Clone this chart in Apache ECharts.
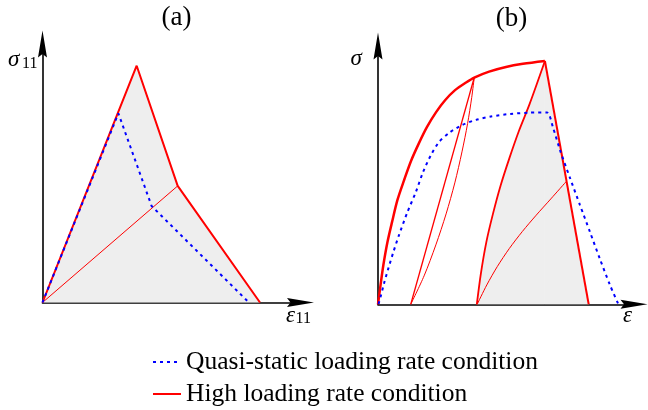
<!DOCTYPE html>
<html><head><meta charset="utf-8">
<script src="https://cdn.jsdelivr.net/npm/echarts@6/dist/echarts.min.js"></script>
<style>html,body{margin:0;padding:0;background:#fff}#c{width:648px;height:410px}</style>
</head><body><div id="c"></div>
<script>
// ---- text ----
const seriesNames = ['Quasi-static loading rate condition', 'High loading rate condition'];
const panelTitles = ['(a)', '(b)'];

// ---- panel (a): sigma_11 vs epsilon_11 (schematic units 0..100) ----
const aHigh = [[0, 0], [36.5, 91.6], [52.4, 45.1], [84.3, 0]];
const aHighThin = [[0, 0], [52.4, 45.1]];
const aQuasi = [[0, 0], [29.4, 73.2], [42.3, 37.3], [80.0, 0]];

// ---- panel (b): sigma vs epsilon (schematic units 0..100) ----
const bEnvelope = [[0, 0], [1.0, 7.5], [2.1, 15.2], [3.7, 24.1], [5.5, 31.9], [7.6, 40.4], [10.2, 48.1],
  [12.9, 55.5], [16.0, 62.4], [19.1, 68.6], [22.7, 74.4], [26.2, 79.0], [30.1, 82.9], [34.4, 85.9],
  [37.6, 87.8], [43.4, 90.1], [50.0, 91.9], [56.6, 93.1], [65.2, 94.2]];
const bDescend = [[65.2, 94.2], [82.3, 0]];
const bUnload1 = [[37.6, 87.8], [12.8, 0]];
const bReload1 = [[12.8, 0], [18.0, 11], [22.6, 23], [26.6, 35], [30.0, 47], [32.8, 59], [35.0, 70], [36.6, 80], [37.6, 87.8]];
const bUnload2 = [[38.6, 0], [40.2, 12], [42.3, 24], [44.9, 35], [47.9, 46], [51.3, 56.5], [55.0, 67], [59.2, 77.5], [65.2, 94.2]];
const bReload2 = [[38.75, 0], [42.5, 7.5], [46.6, 14.6], [51.3, 21.6], [56.4, 28.2], [61.8, 34.5], [67.5, 40.8], [73.5, 47.5]];
const bQuasi = [[0.2, 0.1], [1.2, 3.6], [2.5, 8.6], [4.1, 14.1], [5.9, 19.9], [8.2, 26.8], [11.5, 35.7],
  [14.8, 43.5], [17.6, 51.2], [20.7, 57.8], [23.8, 62.8], [27.7, 66.3], [32.8, 69.4], [38.3, 71.4],
  [44.1, 72.7], [51.6, 73.7], [59.4, 74.2], [66.0, 74.3], [68.4, 68.3], [71.1, 59.7], [75.0, 48.9],
  [78.9, 38.4], [82.8, 28.0], [86.7, 17.5], [90.6, 7.5], [93.9, 0]];

const RED = '#ff0000', BLUE = '#0000ff', FILL = '#eeeeee';
const SERIF = '"Liberation Serif", "DejaVu Serif", serif';
const DASH = [3, 4];

function axis(gi) {
  return {
    type: 'value', gridIndex: gi, min: 0, max: 100,
    axisLine: { show: true, onZero: false, symbol: ['none', 'path://M4.5,0L9,27L4.5,23.5L0,27Z'], symbolSize: [9, 27],
      lineStyle: { color: '#000', width: 1.6 } },
    axisTick: { show: false }, axisLabel: { show: false }, splitLine: { show: false }
  };
}
function line(name, data, gi, color, width, opts) {
  return Object.assign({
    type: 'line', name: name, data: data, xAxisIndex: gi, yAxisIndex: gi,
    symbol: 'none', clip: false, silent: true, animation: false,
    lineStyle: { color: color, width: width }
  }, opts || {});
}
function fill(data, gi, opts) {
  return line('fill', data, gi, FILL, 0, Object.assign({ areaStyle: { color: FILL, opacity: 1 }, lineStyle: { width: 0, opacity: 0 } }, opts || {}));
}
function legendItem(name, top) {
  return {
    data: [name], orient: 'horizontal', left: 147, top: top, itemWidth: 28, itemHeight: 14,
    selectedMode: false, itemStyle: { opacity: 0 },
    textStyle: { fontFamily: SERIF, fontSize: 25.5, color: '#000' }
  };
}

const chart = echarts.init(document.getElementById('c'), null, { renderer: 'canvas' });
chart.setOption({
  animation: false,
  backgroundColor: '#fff',
  grid: [
    { left: 42.5, top: 44, width: 258, height: 258.5 },
    { left: 378, top: 46, width: 256, height: 258.3 }
  ],
  xAxis: [axis(0), axis(1)],
  yAxis: [axis(0), axis(1)],
  legend: [legendItem(seriesNames[0], 344), legendItem(seriesNames[1], 376)],
  graphic: [
    { type: 'text', x: 176.5, y: 17.5, style: { text: panelTitles[0], font: '27px ' + SERIF, fill: '#000', align: 'center', verticalAlign: 'middle' } },
    { type: 'text', x: 511.5, y: 19, style: { text: panelTitles[1], font: '27px ' + SERIF, fill: '#000', align: 'center', verticalAlign: 'middle' } },
    { type: 'text', x: 8, y: 59.5, style: { text: 'σ', font: 'italic 23px ' + SERIF, fill: '#000', align: 'left', verticalAlign: 'middle' } },
    { type: 'text', x: 22, y: 64, style: { text: '11', font: '16px ' + SERIF, fill: '#000', align: 'left', verticalAlign: 'middle' } },
    { type: 'text', x: 286, y: 315.5, style: { text: 'ε', font: 'italic 23px ' + SERIF, fill: '#000', align: 'left', verticalAlign: 'middle' } },
    { type: 'text', x: 295.5, y: 319, style: { text: '11', font: '16px ' + SERIF, fill: '#000', align: 'left', verticalAlign: 'middle' } },
    { type: 'text', x: 350.5, y: 58.5, style: { text: 'σ', font: 'italic 23px ' + SERIF, fill: '#000', align: 'left', verticalAlign: 'middle' } },
    { type: 'text', x: 623, y: 315.5, style: { text: 'ε', font: 'italic 23px ' + SERIF, fill: '#000', align: 'left', verticalAlign: 'middle' } }
  ],
  series: [
    // panel (a)
    fill(aHigh, 0),
    line(seriesNames[1], aHigh, 0, RED, 2),
    line('a-thin', aHighThin, 0, RED, 1),
    line(seriesNames[0], aQuasi, 0, BLUE, 2, { lineStyle: { color: BLUE, width: 2, type: DASH } }),
    // panel (b)
    fill(bUnload2, 1, { smooth: 0.3 }),
    fill(bDescend, 1),
    line('b-envelope', bEnvelope, 1, RED, 2.5, { smooth: 0.3 }),
    line('b-descend', bDescend, 1, RED, 2),
    line('b-unload1', bUnload1, 1, RED, 1.3),
    line('b-reload1', bReload1, 1, RED, 1, { smooth: 0.3 }),
    line('b-unload2', bUnload2, 1, RED, 1.8, { smooth: 0.3 }),
    line('b-reload2', bReload2, 1, RED, 1, { smooth: 0.3 }),
    line('b-quasi', bQuasi, 1, BLUE, 2, { smooth: 0.25, lineStyle: { color: BLUE, width: 2, type: DASH } })
  ]
});
</script>
</body></html>
